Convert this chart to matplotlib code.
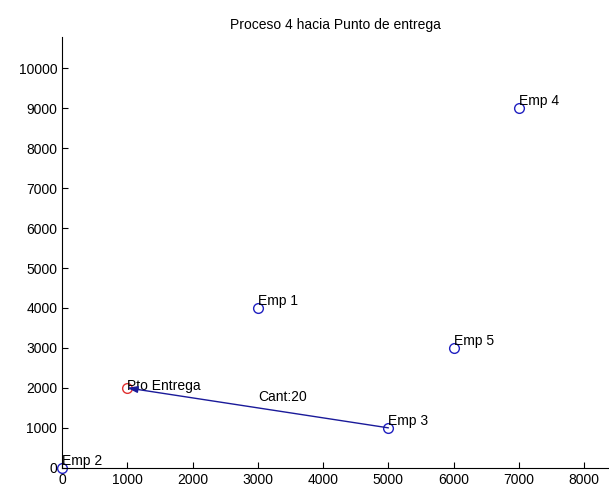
import matplotlib
matplotlib.use('Agg')
import matplotlib.pyplot as plt

plt.rcParams['font.family'] = ['Liberation Sans', 'DejaVu Sans']

emp_names = ['Emp 1', 'Emp 2', 'Emp 3', 'Emp 4', 'Emp 5']
emp_x = [3000, 0, 5000, 7000, 6000]
emp_y = [4000, 0, 1000, 9000, 3000]
pto_x, pto_y = 1000, 2000
origen = 2  # Emp 3 envia al punto de entrega
cantidad = 20

fig = plt.figure(figsize=(6.09, 4.94), dpi=100)
ax = fig.add_axes([0.102, 0.053, 0.898, 0.872])

ax.plot(emp_x, emp_y, 'o', mfc='none', mec='#2020c0', ms=7, mew=1, clip_on=False)
ax.plot(pto_x, pto_y, 'o', mfc='none', mec='#e03030', ms=7, mew=1)

for n, x, y in zip(emp_names, emp_x, emp_y):
    ax.annotate(n, (x, y), xytext=(0, 0), textcoords='offset points',
                fontsize=10, va='bottom', ha='left')
ax.annotate('Pto Entrega', (pto_x, pto_y), xytext=(0, -4), textcoords='offset points',
            fontsize=10, va='bottom', ha='left')

# flecha del recorrido
x0, y0 = emp_x[origen], emp_y[origen]
ax.annotate('', xy=(pto_x, pto_y), xytext=(x0, y0),
            arrowprops=dict(arrowstyle='-|>,head_length=0.6,head_width=0.2',
                            color='#1a1a9a', lw=1,
                            mutation_scale=10, shrinkA=0, shrinkB=0))
ax.text((x0 + pto_x) / 2, (y0 + pto_y) / 2 + 280, 'Cant:%d' % cantidad,
        fontsize=10, va='center', ha='left')

ax.set_title('Proceso 4 hacia Punto de entrega', fontsize=10)
ax.set_xlim(0, 8380)
ax.set_ylim(0, 10780)
ax.set_xticks(range(0, 9000, 1000))
ax.set_yticks(range(0, 11000, 1000))
ax.tick_params(direction='in', length=4, labelsize=10)
ax.spines['top'].set_visible(False)
ax.spines['right'].set_visible(False)

fig.savefig('out.png', dpi=100)
